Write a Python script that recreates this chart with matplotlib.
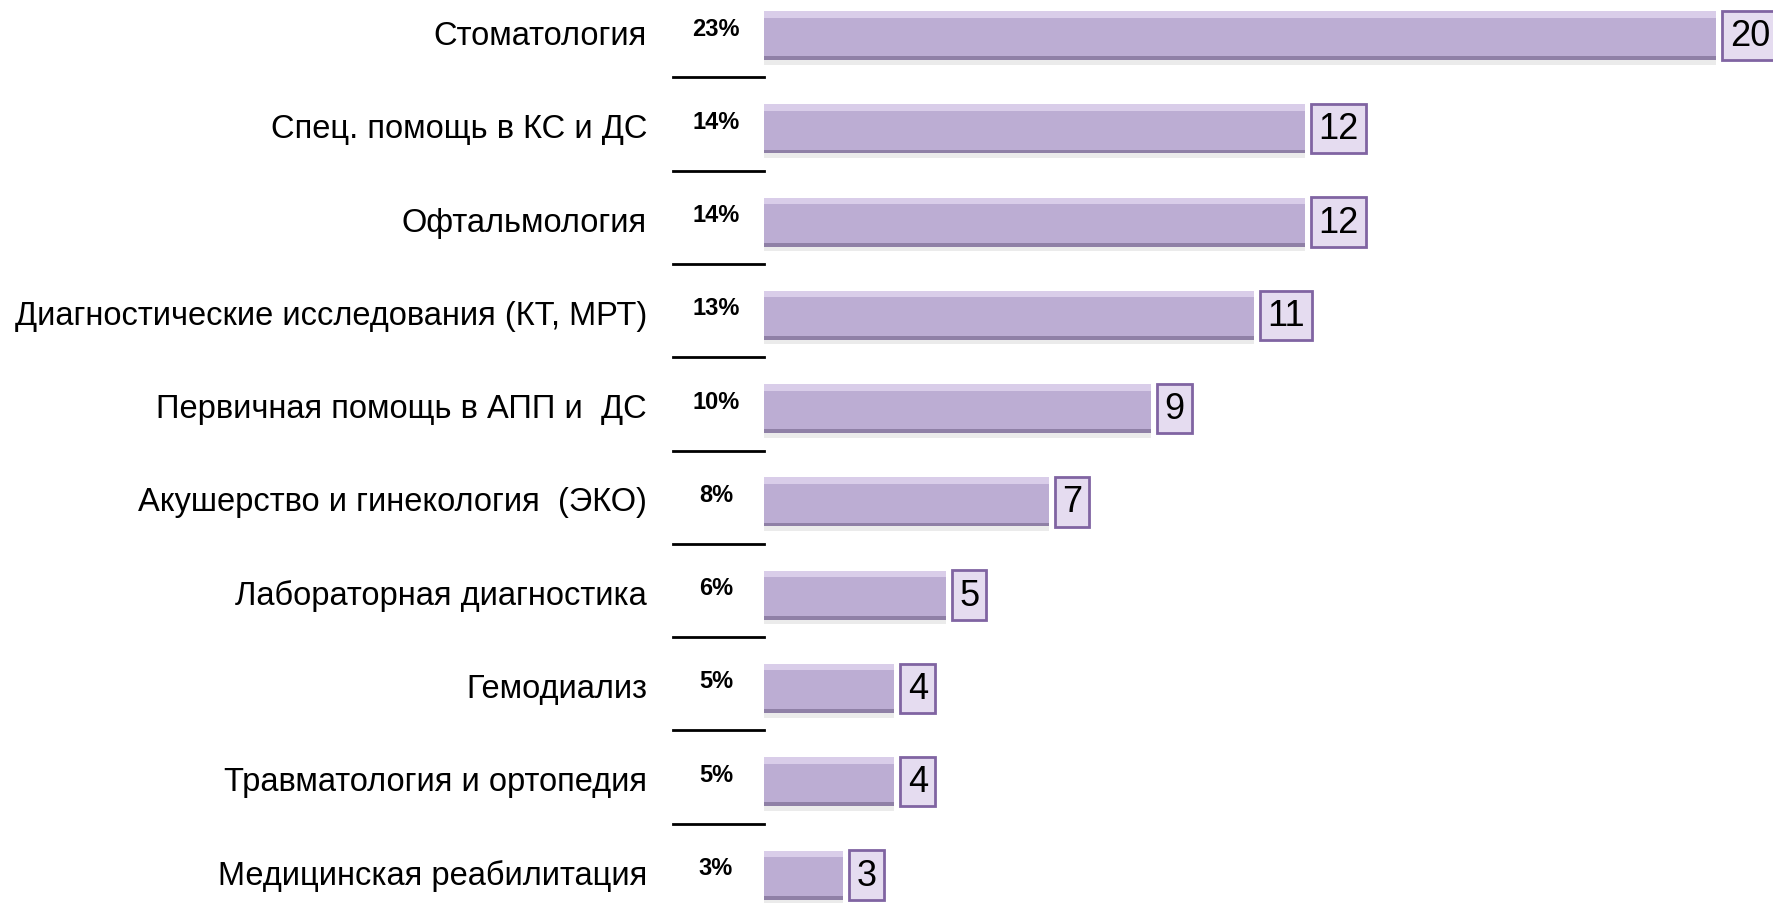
import matplotlib.pyplot as plt
import matplotlib.transforms as mtransforms

plt.rcParams['font.family'] = ['Liberation Sans', 'DejaVu Sans']

# data
categories = ['Стоматология', 'Спец. помощь в КС и ДС', 'Офтальмология',
              'Диагностические исследования (КТ, МРТ)', 'Первичная помощь в АПП и  ДС',
              'Акушерство и гинекология  (ЭКО)', 'Лабораторная диагностика',
              'Гемодиализ', 'Травматология и ортопедия', 'Медицинская реабилитация']
values = [20, 12, 12, 11, 9, 7, 5, 4, 4, 3]
shares = ['23%', '14%', '14%', '13%', '10%', '8%', '6%', '5%', '5%', '3%']

W, H = 1774, 904
fig = plt.figure(figsize=(W / 100, H / 100), dpi=100)
ax = fig.add_axes([763.7 / W, 0, 1 - 763.7 / W, 1])

ypos = list(range(len(values)))
bh = 0.525

# shadow, body, highlight, dark lower rim
ax.barh([y + 0.05 for y in ypos], values, height=bh, color='#000000', alpha=0.08, zorder=1)
ax.barh(ypos, values, height=bh, color='#bcadd3', zorder=2)
ax.barh([y - bh / 2 + 0.035 for y in ypos], values, height=0.07, color='#d9cde9', zorder=3)
ax.barh([y + bh / 2 - 0.02 for y in ypos], values, height=0.04, color='#8f80a6', zorder=3)

for y, v in zip(ypos, values):
    ax.annotate(str(v), (v, y), xytext=(9.5, 0), textcoords='offset points',
                ha='left', va='center', fontsize=26, color='black', zorder=5,
                bbox=dict(boxstyle='square,pad=0.2', fc='#e5dcf0', ec='#8064a2', lw=2))

trans = mtransforms.blended_transform_factory(ax.transAxes, ax.transData)
for y, name, s in zip(ypos, categories, shares):
    ax.text(-0.1155, y, name, transform=trans, ha='right', va='center',
            fontsize=23.5, color='black')
    ax.text(-0.0472, y - 0.08, s, transform=trans, ha='center', va='center',
            fontsize=17, fontweight='bold', color='black')
for y in ypos[:-1]:
    ax.plot([-0.0898, 0], [y + 0.45, y + 0.45], transform=trans, color='black',
            lw=2, clip_on=False)

ax.set_xlim(1.454, 21.12)
ax.set_ylim(9.30, -0.391)
ax.axis('off')

fig.savefig('out.png', dpi=100)
